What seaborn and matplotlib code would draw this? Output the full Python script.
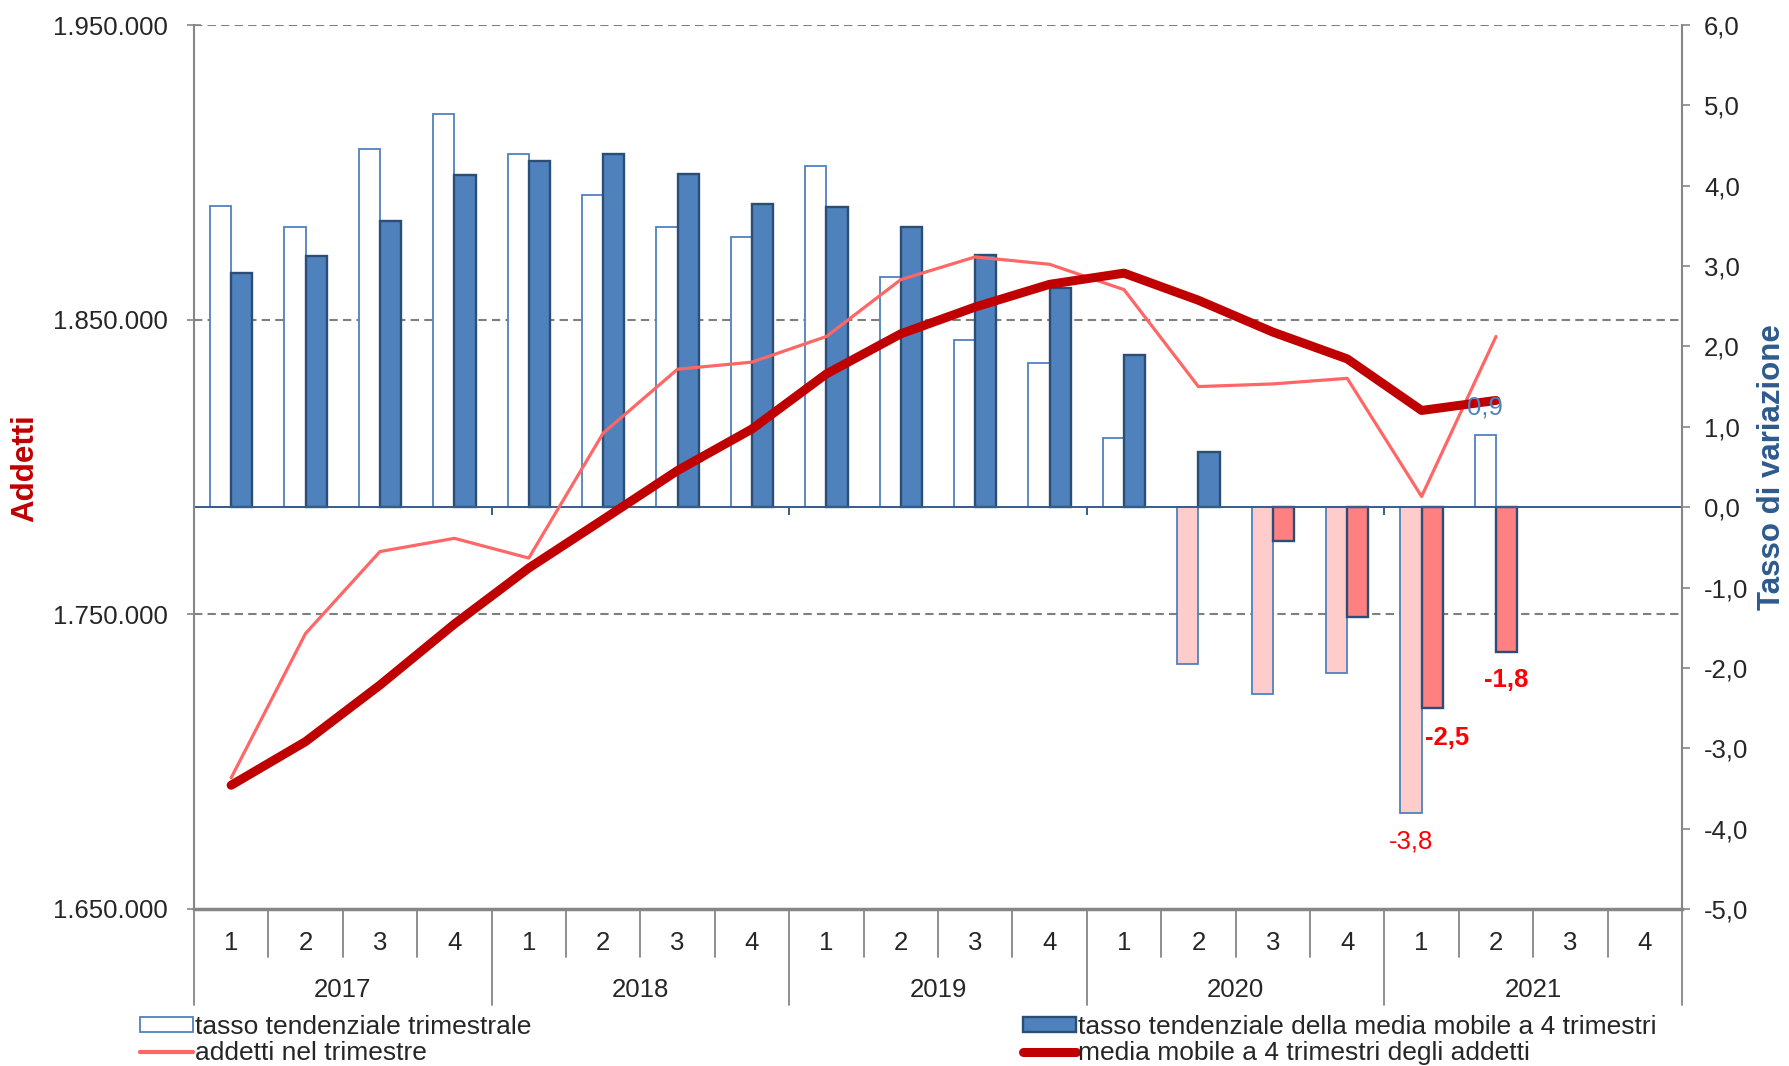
import matplotlib
matplotlib.use('Agg')
import numpy as np
import pandas as pd
import matplotlib.pyplot as plt
import seaborn as sns
from matplotlib.patches import Patch
from matplotlib.lines import Line2D
from matplotlib.ticker import FuncFormatter
from matplotlib.transforms import blended_transform_factory

# data
years = ['2017', '2018', '2019', '2020', '2021']
quarters = ['1', '2', '3', '4']
# tasso tendenziale trimestrale (%)
tasso_trim = [3.75, 3.49, 4.46, 4.89, 4.40, 3.88, 3.49, 3.36, 4.24, 2.87,
              2.08, 1.79, 0.86, -1.95, -2.32, -2.06, -3.8, 0.9, np.nan, np.nan]
# tasso tendenziale della media mobile a 4 trimestri (%)
tasso_mm = [2.92, 3.13, 3.56, 4.14, 4.31, 4.40, 4.15, 3.77, 3.74, 3.49,
            3.14, 2.73, 1.90, 0.69, -0.42, -1.37, -2.5, -1.8, np.nan, np.nan]
# addetti nel trimestre
addetti = [1694500, 1743500, 1771300, 1775800, 1769100, 1811500, 1833200, 1835600,
           1844300, 1863600, 1871300, 1868800, 1860200, 1827300, 1828200, 1830100,
           1790000, 1844300, np.nan, np.nan]
# media mobile a 4 trimestri degli addetti
addetti_mm = [1692000, 1706800, 1726000, 1746700, 1765700, 1782200, 1798800, 1812900,
              1831600, 1845200, 1854300, 1862000, 1865800, 1856600, 1845800, 1836700,
              1819200, 1822600, np.nan, np.nan]

cats = [y + '-' + q for y in years for q in quarters]
pos = np.arange(len(cats))

bars = pd.DataFrame({
    'cat': cats * 2,
    'val': tasso_trim + tasso_mm,
    'serie': ['trim'] * len(cats) + ['mm'] * len(cats),
}).dropna()

sns.set_style('white')
plt.rcParams['font.family'] = ['Liberation Sans', 'DejaVu Sans']

BLUE = '#4F81BD'
DKBLUE = '#2C4D75'
PINK_L = '#FFCCCC'
PINK = '#FF8080'
LINE_L = '#FF6666'
LINE_D = '#C00000'
GREY = '#868686'
FS = 18.5

fig = plt.figure(figsize=(17.89, 10.66), dpi=100)
ax = fig.add_axes([0.1084, 0.1473, 0.8318, 0.8292])
ax2 = ax.twinx()

# bars (right axis)
sns.barplot(data=bars, x='cat', y='val', hue='serie', hue_order=['trim', 'mm'],
            order=cats, width=0.57, errorbar=None, legend=False, ax=ax,
            palette=[BLUE, BLUE])
for p in ax.patches:
    c = p.get_x() + p.get_width() / 2
    h = p.get_height()
    if c < round(c):
        p.set_facecolor('white' if h >= 0 else PINK_L)
        p.set_edgecolor(BLUE)
        p.set_linewidth(1.3)
    else:
        p.set_facecolor(BLUE if h >= 0 else PINK)
        p.set_edgecolor(DKBLUE)
        p.set_linewidth(1.7)
    p.set_zorder(2)

# lines (left axis)
sns.lineplot(x=pos, y=addetti, ax=ax2, color=LINE_L, linewidth=2.3, legend=False)
sns.lineplot(x=pos, y=addetti_mm, ax=ax2, color=LINE_D, linewidth=6.5, legend=False,
             solid_capstyle='round')

ax.set_xlim(-0.5, len(cats) - 0.5)
ax2.set_xlim(-0.5, len(cats) - 0.5)
ax.set_ylim(-5, 6)
ax2.set_ylim(1650000, 1950000)

ax.yaxis.tick_right()
ax2.yaxis.tick_left()
ax.set_yticks(np.arange(-5, 7, 1))
ax2.set_yticks(np.arange(1650000, 1950001, 100000))
ax.yaxis.set_major_formatter(FuncFormatter(lambda v, _: f'{v:.1f}'.replace('.', ',')))
ax2.yaxis.set_major_formatter(FuncFormatter(lambda v, _: f'{int(v):,}'.replace(',', '.')))
ax.tick_params(axis='y', direction='out', length=6, width=1.2, color=GREY,
               labelsize=FS, pad=10, right=True, left=False)
ax2.tick_params(axis='y', direction='inout', length=10, width=1.2, color=GREY,
                labelsize=FS, pad=14, left=True, right=False)
ax.set_xticks([])
ax2.set_xticks([])
for a in (ax, ax2):
    a.set_xlabel('')
    a.set_ylabel('')
for s in ax.spines.values():
    s.set_visible(False)
ax2.spines['top'].set_visible(False)
for side in ('left', 'right'):
    ax2.spines[side].set_color(GREY)
    ax2.spines[side].set_linewidth(1.5)
ax2.spines['bottom'].set_color(GREY)
ax2.spines['bottom'].set_linewidth(2.5)

# dashed gridlines at left-axis ticks, behind the bars
gtr = blended_transform_factory(ax.transAxes, ax2.transData)
for v in (1950000, 1850000, 1750000):
    ax.plot([0, 1], [v, v], transform=gtr, color='#7F7F7F', lw=1.5,
            linestyle=(0, (4, 2.5)), zorder=0.5)

# zero line with year ticks
ax.axhline(0, color='#385D8A', lw=1.4, zorder=3)
ax.vlines([3.5, 7.5, 11.5, 15.5], -0.1, 0, color='#385D8A', lw=1.4, zorder=3)

# value labels
def lab(x, y, txt, dx, dy, **kw):
    ax2.annotate(txt, xy=(x, y), xycoords=ax.transData, xytext=(dx, dy),
                 textcoords='offset points', ha='center', va='center',
                 fontsize=FS, zorder=6, **kw)

lab(16 - 0.1425, tasso_trim[16], '-3,8', 0, -21, color='#FF0000')
lab(16 + 0.1425, tasso_mm[16], '-2,5', 11, -21.5, color='#FF0000', fontweight='bold')
lab(17 + 0.1425, tasso_mm[17], '-1,8', 0, -20, color='#FF0000', fontweight='bold')
lab(17 - 0.1425, tasso_trim[17], '0,9', 0, 19.5, color=BLUE)

# category table below the plot
tr = blended_transform_factory(ax.transData, ax.transAxes)
for i in range(len(cats) + 1):
    low = -0.1086 if i % 4 == 0 else -0.0543
    ax.plot([i - 0.5, i - 0.5], [0, low], transform=tr, color=GREY, lw=1.3,
            clip_on=False)
for i, c in enumerate(cats):
    ax.text(i, -0.0388, c.split('-')[1], transform=tr, ha='center', va='center',
            fontsize=FS)
for j, y in enumerate(years):
    ax.text(j * 4 + 1.5, -0.0922, y, transform=tr, ha='center', va='center',
            fontsize=FS)

fig.text(0.014, 0.561, 'Addetti', rotation=90, ha='center', va='center',
         fontsize=22.5, fontweight='bold', color=LINE_D)
fig.text(0.9905, 0.562, 'Tasso di variazione', rotation=90, ha='center', va='center',
         fontsize=22.5, fontweight='bold', color='#2E5A8E')

# legend
h1 = [Patch(facecolor='white', edgecolor=BLUE, lw=1.3),
      Line2D([], [], color=LINE_L, lw=3)]
h2 = [Patch(facecolor=BLUE, edgecolor=DKBLUE, lw=1.7),
      Line2D([], [], color=LINE_D, lw=6.5)]
kw = dict(loc='upper left', frameon=False, fontsize=19, borderpad=0, borderaxespad=0,
          handlelength=2.0, handleheight=0.5, handletextpad=0.1, labelspacing=0.1)
fig.legend(h1, ['tasso tendenziale trimestrale', 'addetti nel trimestre'],
           bbox_to_anchor=(0.0783, 0.048), **kw)
fig.legend(h2, ['tasso tendenziale della media mobile a 4 trimestri',
                'media mobile a 4 trimestri degli addetti'],
           bbox_to_anchor=(0.5718, 0.048), **kw)

fig.savefig('out.png', dpi=100)
